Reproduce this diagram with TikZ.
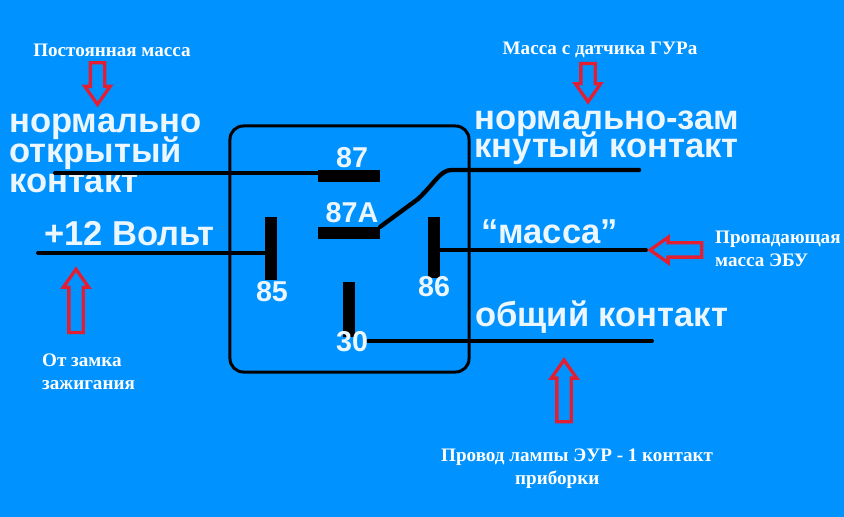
\documentclass[tikz,border=0pt]{standalone}
\usepackage{xcolor}
\usepackage{fontspec}
\setmainfont{Liberation Serif}
\newfontfamily\wirefont{Liberation Sans}
\usepackage{tikz}
\usetikzlibrary{shapes.arrows}
\definecolor{bgblue}{RGB}{0,147,255}
\definecolor{arrowred}{RGB}{226,30,50}
\definecolor{softwhite}{RGB}{236,246,255}
\newcommand{\tightlines}{\setlength{\lineskiplimit}{-20pt}}
\tikzset{
    note/.style={text=white, font=\fontsize{16.3}{19.5}\selectfont\bfseries, inner sep=0pt},
    wirelbl/.style={text=softwhite, font=\wirefont\fontsize{29.5}{25.5}\selectfont\bfseries\tightlines, inner sep=0pt, anchor=west, align=left},
    pinlbl/.style={text=softwhite, font=\wirefont\fontsize{24.5}{24}\selectfont\bfseries, inner sep=0pt},
    hpin/.style={fill=black, inner sep=0pt, minimum width=1.86cm, minimum height=0.36cm},
    vpin/.style={fill=black, inner sep=0pt, minimum width=0.36cm},
    wire/.style={line width=0.12cm, color=black, line cap=round},
    blockarr/.style={single arrow, draw=arrowred, line width=0.1cm, fill=bgblue, inner xsep=0pt, inner ysep=0.165cm,
        minimum width=0.66cm, single arrow head extend=0.165cm, single arrow tip angle=70},
}
\begin{document}
\begin{tikzpicture}[x=0.03cm, y=-0.03cm]
    \fill[bgblue] (0, 0) rectangle (844, 517);
    % labels printed under the wires
    \node[wirelbl] (nolbl) at (9, 153) {нормально\\открытый\\контакт};
    \node[wirelbl, font=\wirefont\fontsize{29.5}{24}\selectfont\bfseries\tightlines] (nclbl) at (474, 137.5) {нормально-зам\\кнутый контакт};
    \node[wirelbl] (plus) at (44, 234) {+12 Вольт};
    \node[wirelbl] (gndlbl) at (481, 232) {“масса”};
    \node[wirelbl] (comlbl) at (475, 317) {общий контакт};
    % relay
    \node[draw=black, line width=0.09cm, rounded corners=0.4cm, minimum width=7.17cm, minimum height=7.38cm] (relay) at (349.5, 249) {};
    \node[hpin] (p87) at (349, 176) {};
    \node[hpin] (p87a) at (349, 233) {};
    \node[vpin, minimum height=1.89cm] (p85) at (271, 248.5) {};
    \node[vpin, minimum height=1.83cm] (p86) at (434, 247.5) {};
    \node[vpin, minimum height=1.65cm] (p30) at (349, 309.5) {};
    % wires
    \coordinate (e87) at (55, 173);
    \coordinate (e85) at (38, 253);
    \coordinate (e86) at (646, 250);
    \coordinate (e30) at (652, 341);
    \coordinate (s30) at (368, 341);
    \coordinate (enc) at (639, 170);
    \draw[wire] (e87) -- (p87.west |- e87);
    \draw[wire] (e85) -- (p85.west |- e85);
    \draw[wire] (p86.east |- e86) -- (e86);
    \draw[wire] (s30) -- (e30);
    \draw[line width=0.13cm, color=black, line cap=round] (p87a.north east) -- (418, 199) .. controls (436, 182) and (440, 170) .. (452, 170) -- (enc);
    % pin numbers
    \node[pinlbl] (n87) at (352, 158) {87};
    \node[pinlbl] (n87a) at (352, 213) {87A};
    \node[pinlbl] (n85) at (272, 292) {85};
    \node[pinlbl] (n86) at (434, 287) {86};
    \node[pinlbl] (n30) at (352, 342) {30};
    % notes
    \node[note] (top1) at (112, 50) {Постоянная масса};
    \node[note] (top2) at (600, 50) {Масса с датчика ГУРа};
    \node[note, anchor=west, align=left] (rgt) at (715, 249) {Пропадающая\\масса ЭБУ};
    \node[note, anchor=west, align=left] (lft) at (42, 372) {От замка\\зажигания};
    \node[note, anchor=west, align=left] (bot) at (441, 469) {Провод лампы ЭУР - 1 контакт\\\hspace*{2.22cm}приборки};
    % red arrows
    \node[blockarr, rotate=-90, minimum height=1.25cm] (a1) at (97.5, 78.5) {};
    \node[blockarr, rotate=-90, minimum height=1.15cm] (a2) at (588, 77.5) {};
    \node[blockarr, rotate=180, minimum height=1.55cm] (a3) at (681, 250) {};
    \node[blockarr, rotate=90, minimum height=1.9cm] (a4) at (76, 306) {};
    \node[blockarr, rotate=90, minimum height=1.85cm] (a5) at (564, 396) {};
\end{tikzpicture}
\end{document}
